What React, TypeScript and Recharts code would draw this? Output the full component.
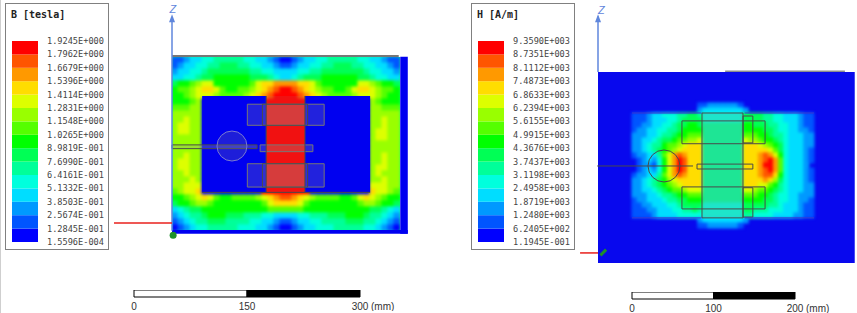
import React from "react";
import {
  Bar,
  BarChart,
  ReferenceArea,
  ReferenceDot,
  ReferenceLine,
  Scatter,
  ScatterChart,
  XAxis,
  YAxis,
} from "recharts";

// contour band colours, lowest band first
const bandColors = [
  "#0000ff", "#0055ff", "#0099ff", "#00ddff", "#00ffdd",
  "#00ff99", "#00ff55", "#00ff00", "#55ff00", "#99ff00",
  "#ddff00", "#ffdd00", "#ff9900", "#ff5500", "#ff0000",
];

const teslaLabels = [
  "1.5596E-004", "1.2845E-001", "2.5674E-001", "3.8503E-001", "5.1332E-001", "6.4161E-001",
  "7.6990E-001", "8.9819E-001", "1.0265E+000", "1.1548E+000", "1.2831E+000", "1.4114E+000",
  "1.5396E+000", "1.6679E+000", "1.7962E+000", "1.9245E+000",
];

const ampereLabels = [
  "1.1945E-001", "6.2405E+002", "1.2480E+003", "1.8719E+003", "2.4958E+003", "3.1198E+003",
  "3.7437E+003", "4.3676E+003", "4.9915E+003", "5.6155E+003", "6.2394E+003", "6.8633E+003",
  "7.4873E+003", "8.1112E+003", "8.7351E+003", "9.3590E+003",
];

// band index per cell (base 15)
const fluxRows = [
  "11233445555544332100123344555554433211",
  "12334455666554433211233445566655443321",
  "23344566666665544333344556666666544332",
  "33445667777776665433456667777776654433",
  "67789aa7777778abbccccbba8777777aa98776",
  "7889abba877889abcdeedcba988778abba9887",
  "7789aaa988889abcdeeeedcba988889aaa9877",
  "777890000000000eeeeeeee000000000098777",
  "888990000000000eeeeeeee000000000099888",
  "999990000000000eeeeeeee000000000099999",
  "99a990000000000eeeeeeee000000000099a99",
  "9aa990000000000eeeeeeee000000000099a99",
  "9aa990000000000eeeeeeee00000000009aa99",
  "999990000000000eeeeeeee00000000009aa99",
  "999990000000000eeeeeeee000000000099999",
  "999990000000000eeeeeeee000000000099999",
  "99a990000000000eeeeeeee000000000099a99",
  "9aa990000000000eeeeeeee000000000099a99",
  "9aa990000000000eeeeeeee00000000009aa99",
  "99a990000000000eeeeeeee00000000009a999",
  "999a90000000000eeeeeeee000000000099a99",
  "99aaa0000000000eeeeeeee0000000000aaa99",
  "89aab0000000000eeeeeeee0000000000baa98",
  "7789aba87788889abcddcba98888778aba9877",
  "6778998777777778abbbba8777777778998776",
  "34566777777777778888887777777777766543",
  "23455677766655544333344555666777655432",
  "12345566655554433211233445555666554321",
  "01234455555444332100123344455555443210",
];

const fieldRows = [
  "000000000000011222222100000000000000",
  "000000000000023333333320000000000000",
  "111233444556654444444466665544333211",
  "111233344566664444444466665544333211",
  "112233445667765555555577666554433211",
  "122334455677775555555577776654433221",
  "222334556778885555555588877655433322",
  "2233456678899a55555555a9987765433322",
  "2234557889abbb55555555bbba9876433322",
  "223456789abbbb55555555bbbbba86433321",
  "1223358acdcbbb55555555bbbcdca7433321",
  "0123247acedbbb55555555bbbcdec8433321",
  "0122147acedbbb55555555bbbceec8433320",
  "0123247acedbbb55555555bbbcdec8433321",
  "1223358acdcbbb55555555bbbcddb7433321",
  "22345679abbbbb55555555bbbbcb96433321",
  "223456789abbbb55555555bbbaa875433322",
  "22334567889aaa55555555aa988765433322",
  "222334556778885555555588877654433222",
  "122333455667775555555577776654433221",
  "112233344566664444444466666554333211",
  "111223334455654444444466555444333211",
  "111123333444444444444455444433332211",
  "000000000000023333333320000000000000",
  "000000000000011222222100000000000000",
];

// model outlines in mm, measured from the top left corner of each model
const fluxWindings = [
  { y1: 64, y2: 92 },
  { y1: 143, y2: 174 },
];
const fieldWindings = [
  { y1: 60, y2: 88 },
  { y1: 141, y2: 168 },
];
const fieldSideBars = [
  { y1: 54, y2: 87 },
  { y1: 142, y2: 178 },
];

const axisBlue = "#5f86dc";
const gridLine = "#4a4a4a";

const parseRows = (rows: string[], x0: number, y0: number, cellX: number, cellY: number) =>
  rows.flatMap((row, r) =>
    row.split("").map((code, c) => ({
      x: x0 + (c + 0.5) * cellX,
      y: y0 + (r + 0.5) * cellY,
      level: parseInt(code, 15),
    })),
  );

function mapFrame(
  box: { left: number; top: number; width: number; height: number },
  originX: number,
  originY: number,
  pxPerMm: number,
) {
  return {
    ...box,
    pxPerMm,
    xDomain: [(box.left - originX) / pxPerMm, (box.left + box.width - originX) / pxPerMm],
    yDomain: [(box.top - originY) / pxPerMm, (box.top + box.height - originY) / pxPerMm],
  };
}

type Frame = ReturnType<typeof mapFrame>;

const fluxFrame = mapFrame({ left: 110, top: 0, width: 300, height: 245 }, 172, 56, 0.7533);
const fieldFrame = mapFrame({ left: 575, top: 0, width: 282, height: 270 }, 598, 72, 0.815);

function MapChart({ frame, children }: { frame: Frame; children: React.ReactNode }) {
  return (
    <ScatterChart
      width={frame.width}
      height={frame.height}
      margin={{ top: 0, right: 0, bottom: 0, left: 0 }}
    >
      <XAxis type="number" dataKey="x" hide domain={frame.xDomain} allowDataOverflow />
      <YAxis type="number" dataKey="y" hide reversed domain={frame.yDomain} allowDataOverflow />
      {children}
    </ScatterChart>
  );
}

function HeatCells({ frame, data, cellX, cellY }: { frame: Frame; data: any[]; cellX: number; cellY: number }) {
  const w = cellX * frame.pxPerMm + 1;
  const h = cellY * frame.pxPerMm + 1;
  return (
    <MapChart frame={frame}>
      <Scatter
        data={data}
        isAnimationActive={false}
        shape={(p: any) => (
          <rect
            x={p.cx - w / 2}
            y={p.cy - h / 2}
            width={w}
            height={h}
            fill={bandColors[p.payload.level]}
          />
        )}
      />
    </MapChart>
  );
}

const arrowHead = (color: string) => (p: any) => (
  <polygon points={`${p.cx},${p.cy - 4} ${p.cx + 3},${p.cy + 4} ${p.cx - 3},${p.cy + 4}`} fill={color} />
);

const layer = (frame: Frame): React.CSSProperties => ({
  position: "absolute",
  left: frame.left,
  top: frame.top,
  width: frame.width,
  height: frame.height,
});

function FluxMap() {
  const cell = 7.96;
  return (
    <>
      <div
        style={{
          ...layer(fluxFrame),
          clipPath: "inset(57px 10px 15px 62px)",
          background: "#00ff80",
        }}
      >
        <div style={{ filter: "blur(1.8px)" }}>
          <HeatCells frame={fluxFrame} data={parseRows(fluxRows, 0, 1.3, cell, cell)} cellX={cell} cellY={cell} />
        </div>
      </div>
      <div style={layer(fluxFrame)}>
        <MapChart frame={fluxFrame}>
          <ReferenceArea x1={303} x2={313} y1={1} y2={236} fill="#0000f0" fillOpacity={1} stroke="none" ifOverflow="visible" />
          <ReferenceArea x1={0} x2={313} y1={231} y2={236} fill="#0000f0" fillOpacity={1} stroke="none" ifOverflow="visible" />
          <ReferenceArea x1={40} x2={125} y1={53} y2={180.5} fill="#0000f0" fillOpacity={1} stroke="none" ifOverflow="visible" />
          <ReferenceArea x1={176.5} x2={263} y1={53} y2={180.5} fill="#0000f0" fillOpacity={1} stroke="none" ifOverflow="visible" />
          <ReferenceArea x1={125} x2={176.5} y1={53} y2={181} fill="#888888" fillOpacity={0.12} stroke="none" ifOverflow="visible" />
          {fluxWindings.map((w) => (
            <ReferenceArea key={w.y1} x1={100} x2={202} y1={w.y1} y2={w.y2} fill="#9a9a9a" fillOpacity={0.22} stroke="#777" strokeWidth={1} ifOverflow="visible" />
          ))}
          {fluxWindings.map((w) => (
            <ReferenceArea key={w.y1} x1={120} x2={180} y1={w.y1} y2={w.y2} fill="#9a9a9a" fillOpacity={0.12} stroke={gridLine} strokeWidth={1} ifOverflow="visible" />
          ))}
          <ReferenceDot x={79.6} y={119.5} r={15} fill="#8a8a8a" fillOpacity={0.22} stroke="#7a7ad0" strokeWidth={1} ifOverflow="visible" />
          <ReferenceArea x1={0} x2={113} y1={118} y2={123} fill="#9a9a9a" fillOpacity={0.3} stroke={gridLine} strokeWidth={1} ifOverflow="visible" />
          <ReferenceArea x1={117} x2={187} y1={118} y2={127} fill="#9a9a9a" fillOpacity={0.25} stroke="#777" strokeWidth={1} ifOverflow="visible" />
          <ReferenceLine segment={[{ x: 0, y: 0 }, { x: 301, y: 0 }]} stroke={gridLine} strokeWidth={1.5} ifOverflow="visible" />
          <ReferenceLine segment={[{ x: 40, y: 181 }, { x: 263, y: 181 }]} stroke={gridLine} strokeWidth={1} ifOverflow="visible" />
          <ReferenceLine segment={[{ x: 125, y: 53 }, { x: 125, y: 181 }]} stroke={gridLine} strokeWidth={1} ifOverflow="visible" />
          <ReferenceLine segment={[{ x: 176.5, y: 53 }, { x: 176.5, y: 181 }]} stroke={gridLine} strokeWidth={1} ifOverflow="visible" />
          <ReferenceLine segment={[{ x: 0, y: -48 }, { x: 0, y: 232 }]} stroke={axisBlue} strokeWidth={1.5} ifOverflow="visible" />
          <ReferenceLine segment={[{ x: -77, y: 221.7 }, { x: 0, y: 221.7 }]} stroke="#e8201c" strokeWidth={1.5} ifOverflow="visible" />
          <ReferenceDot x={0} y={-50} r={4} shape={arrowHead(axisBlue)} ifOverflow="visible" />
          <ReferenceDot x={1.5} y={238} r={3.5} fill="#1f8f2a" stroke="none" ifOverflow="visible" />
          <ReferenceDot x={1} y={-62} r={0} ifOverflow="visible" label={{ value: "Z", fill: axisBlue, fontSize: 11, fontStyle: "italic", fontFamily: "Liberation Sans" }} />
        </MapChart>
      </div>
    </>
  );
}

function FieldMap() {
  const cellX = 6.2;
  const cellY = 6.135;
  return (
    <>
      <div style={layer(fieldFrame)}>
        <MapChart frame={fieldFrame}>
          <ReferenceArea x1={0} x2={315} y1={0} y2={234.4} fill="#0808ee" fillOpacity={1} stroke="none" ifOverflow="visible" />
          <ReferenceLine segment={[{ x: 156, y: -1 }, { x: 303, y: -1 }]} stroke="#555" strokeWidth={1} ifOverflow="visible" />
          <ReferenceLine segment={[{ x: 0, y: -68 }, { x: 0, y: 0 }]} stroke={axisBlue} strokeWidth={1.5} ifOverflow="visible" />
          <ReferenceDot x={0} y={-66} r={4} shape={arrowHead(axisBlue)} ifOverflow="visible" />
          <ReferenceDot x={4} y={-76} r={0} ifOverflow="visible" label={{ value: "Z", fill: axisBlue, fontSize: 11, fontStyle: "italic", fontFamily: "Liberation Sans" }} />
        </MapChart>
      </div>
      <div style={{ ...layer(fieldFrame), filter: "blur(1.7px)" }}>
        <HeatCells
          frame={fieldFrame}
          data={parseRows(fieldRows, 41.7, 38, cellX, cellY).filter((d) => d.level > 0)}
          cellX={cellX}
          cellY={cellY}
        />
      </div>
      <div style={layer(fieldFrame)}>
        <MapChart frame={fieldFrame}>
          <ReferenceArea x1={127.6} x2={177.9} y1={50.3} y2={179} fill="#8a8a8a" fillOpacity={0.22} stroke={gridLine} strokeWidth={1} ifOverflow="visible" />
          {fieldWindings.map((w) => (
            <ReferenceArea key={w.y1} x1={103} x2={205} y1={w.y1} y2={w.y2} fill="none" stroke={gridLine} strokeWidth={1} ifOverflow="visible" />
          ))}
          {fieldSideBars.map((w) => (
            <ReferenceArea key={w.y1} x1={178} x2={190} y1={w.y1} y2={w.y2} fill="none" stroke={gridLine} strokeWidth={1} ifOverflow="visible" />
          ))}
          <ReferenceLine segment={[{ x: 41.7, y: 50.3 }, { x: 127, y: 50.3 }]} stroke="#3a3ad0" strokeWidth={1} ifOverflow="visible" />
          <ReferenceLine segment={[{ x: 180, y: 50.3 }, { x: 265, y: 50.3 }]} stroke="#3a3ad0" strokeWidth={1} ifOverflow="visible" />
          <ReferenceLine segment={[{ x: 41.7, y: 179 }, { x: 127, y: 179 }]} stroke="#3a3ad0" strokeWidth={1} ifOverflow="visible" />
          <ReferenceLine segment={[{ x: 180, y: 179 }, { x: 265, y: 179 }]} stroke="#3a3ad0" strokeWidth={1} ifOverflow="visible" />
          <ReferenceDot x={81} y={115.3} r={16} fill="none" stroke={gridLine} strokeWidth={1} ifOverflow="visible" />
          <ReferenceLine segment={[{ x: -1, y: 115.3 }, { x: 116.6, y: 115.3 }]} stroke={gridLine} strokeWidth={1} ifOverflow="visible" />
          <ReferenceArea x1={121.5} x2={190} y1={113} y2={119} fill="none" stroke={gridLine} strokeWidth={1} ifOverflow="visible" />
          <ReferenceLine segment={[{ x: -22, y: 222 }, { x: 0, y: 222 }]} stroke="#e8201c" strokeWidth={1.5} ifOverflow="visible" />
          <ReferenceLine segment={[{ x: 3, y: 225 }, { x: 10, y: 218 }]} stroke="#1f8f2a" strokeWidth={3} ifOverflow="visible" />
        </MapChart>
      </div>
    </>
  );
}

function ColorLegend({ left, title, labels }: { left: number; title: string; labels: string[] }) {
  const ticks = labels.map(Number);
  const keys = bandColors.map((_, i) => `band${i}`);
  const row: Record<string, number | string> = { name: title };
  keys.forEach((k, i) => {
    row[k] = ticks[i + 1] - ticks[i];
  });
  return (
    <div
      style={{
        position: "absolute",
        left,
        top: 3,
        width: 102,
        height: 245,
        border: "1.5px solid #808080",
        background: "#fff",
      }}
    >
      <div
        style={{
          position: "absolute",
          left: 5,
          top: 5,
          fontFamily: "DejaVu Sans Mono",
          fontWeight: "bold",
          fontSize: 10,
          color: "#222",
          whiteSpace: "pre",
        }}
      >
        {title}
      </div>
      <div style={{ position: "absolute", left: 5.5, top: 27 }}>
        <BarChart
          width={96}
          height={218}
          data={[row]}
          barCategoryGap={0}
          margin={{ top: 10, right: 0, bottom: 7, left: 0 }}
        >
          <XAxis dataKey="name" hide />
          <YAxis
            type="number"
            orientation="right"
            width={70}
            domain={[ticks[0], ticks[ticks.length - 1]]}
            ticks={ticks}
            interval={0}
            axisLine={false}
            tickLine={false}
            tickMargin={3}
            tickFormatter={(v: number) => labels[ticks.indexOf(v)]}
            tick={{ fontFamily: "DejaVu Sans Mono", fontSize: 8.6, fill: "#444" }}
          />
          {keys.map((k, i) => (
            <Bar key={k} dataKey={k} stackId="bands" fill={bandColors[i]} isAnimationActive={false} />
          ))}
        </BarChart>
      </div>
    </div>
  );
}

function ScaleBar({ left, top, widthPx, ticks }: { left: number; top: number; widthPx: number; ticks: number[] }) {
  const half = ticks[1];
  const last = ticks[ticks.length - 1];
  const pad = 14;
  return (
    <div style={{ position: "absolute", left: left - pad, top }}>
      <BarChart
        layout="vertical"
        width={widthPx + pad + 45}
        height={21}
        data={[{ name: "scale", first: half, second: last - half }]}
        barCategoryGap={0}
        margin={{ top: 0, right: 45, bottom: 0, left: pad }}
      >
        <XAxis
          type="number"
          domain={[0, last]}
          ticks={ticks}
          interval={0}
          height={14}
          axisLine={false}
          tickLine={false}
          tick={(p: any) => (
            <g fontFamily="Liberation Sans" fontSize={10} fill="#333">
              <text x={p.x} y={p.y + 5} textAnchor="middle">
                {p.payload.value}
              </text>
              {p.payload.value === last && (
                <text x={p.x + 11} y={p.y + 5} textAnchor="start">
                  (mm)
                </text>
              )}
            </g>
          )}
        />
        <YAxis type="category" dataKey="name" hide />
        <Bar dataKey="first" stackId="s" fill="#ffffff" stroke="#000" strokeWidth={1} isAnimationActive={false} />
        <Bar dataKey="second" stackId="s" fill="#000000" stroke="#000" strokeWidth={1} isAnimationActive={false} />
      </BarChart>
    </div>
  );
}

export default function App() {
  return (
    <div style={{ position: "absolute", left: 0, top: 0, width: 857, height: 313, overflow: "hidden", background: "#fff" }}>
      <div style={{ position: "absolute", left: 0, top: 0, width: 1, height: 313, background: "#cfcfcf" }} />
      <FluxMap />
      <FieldMap />
      <ColorLegend left={5} title="B [tesla]" labels={teslaLabels} />
      <ColorLegend left={471} title="H [A/m]" labels={ampereLabels} />
      <ScaleBar left={134} top={290} widthPx={226} ticks={[0, 150, 300]} />
      <ScaleBar left={632} top={292} widthPx={163} ticks={[0, 100, 200]} />
    </div>
  );
}
